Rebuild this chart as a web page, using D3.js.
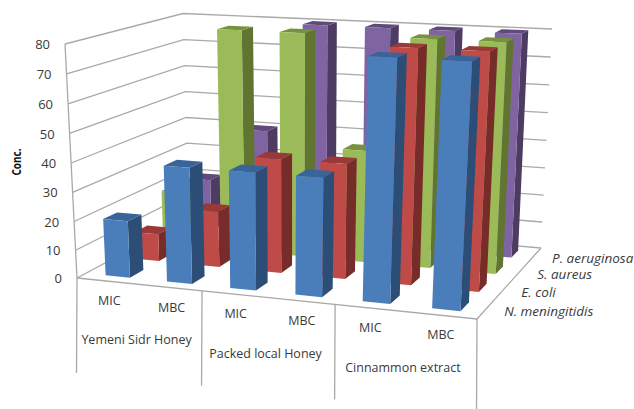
<!DOCTYPE html>
<html>
<head>
<meta charset="utf-8">
<script src="https://cdn.jsdelivr.net/npm/d3@7"></script>
<style>
html,body{margin:0;padding:0;background:#fff}
text{font-family:"Open Sans",sans-serif;fill:#3a3a3a}
</style>
</head>
<body>
<svg id="chart" width="634" height="409"></svg>
<script>
// Chart data
const groups = ["Yemeni Sidr Honey", "Packed local Honey", "Cinnammon extract"];
const measures = ["MIC", "MBC", "MIC", "MBC", "MIC", "MBC"];
const organisms = ["N. meningitidis", "E. coli", "S. aureus", "P. aeruginosa"];
const meningitidis = [20, 40, 40, 40, 80, 80];
const ecoli = [10, 20, 40, 40, 80, 80];
const aureus = [20, 80, 80, 40, 80, 80];
const aeruginosa = [20, 40, 80, 80, 80, 80];
const seriesValues = [meningitidis, ecoli, aureus, aeruginosa];
const yTicks = [0, 10, 20, 30, 40, 50, 60, 70, 80];

// Face colours per series: front, side, top
const frontColors = ["#4a7ebb", "#be4b48", "#9bbb59", "#8064a2"];
const sideColors = ["#2c4d75", "#772c2a", "#5f7530", "#4d3b62"];
const topColors = ["#38649a", "#993a38", "#76923c", "#5f4a7a"];

// Box corners on screen: floor plane and plane of the maximum value
const floorQuad = [[77, 278], [477, 319], [541, 248], [189, 218]];
const topQuad = [[65, 44], [490, 65.5], [552, 29], [183, 13.5]];

// Maps the unit square onto a quadrilateral (projective)
function quadMap(q) {
  const [[x0, y0], [x1, y1], [x2, y2], [x3, y3]] = q;
  const dx1 = x1 - x2, dx2 = x3 - x2, dy1 = y1 - y2, dy2 = y3 - y2;
  const sx = x0 - x1 + x2 - x3, sy = y0 - y1 + y2 - y3;
  const det = dx1 * dy2 - dx2 * dy1;
  const g = (sx * dy2 - dx2 * sy) / det;
  const h = (dx1 * sy - sx * dy1) / det;
  const a = x1 - x0 + g * x1, b = x3 - x0 + h * x3;
  const d = y1 - y0 + g * y1, e = y3 - y0 + h * y3;
  return (u, v) => {
    const w = g * u + h * v + 1;
    return [(a * u + b * v + x0) / w, (d * u + e * v + y0) / w];
  };
}
const floorMap = quadMap(floorQuad), topMap = quadMap(topQuad);

const xBand = d3.scaleBand().domain(d3.range(measures.length)).range([0.005, 1]).paddingInner(0.6).paddingOuter(0.3);
const zBand = d3.scaleBand().domain(d3.range(organisms.length)).range([0, 1]).paddingInner(0.55).paddingOuter(0.275);
// Slight foreshortening: equal value steps grow a little towards the top
const yScale = d3.scalePow().exponent(1.025).domain([0, 80]).range([0, 1]);

// Position of (u along categories, value, v into depth) on screen
function project(u, value, v) {
  const a = floorMap(u, v), b = topMap(u, v), t = yScale(value);
  return [a[0] + (b[0] - a[0]) * t, a[1] + (b[1] - a[1]) * t];
}

const svg = d3.select("#chart");
const gridColor = "#a9a9a9";
const frame = svg.append("g").attr("fill", "none").attr("stroke", gridColor).attr("stroke-width", 1.3);
const line = pts => frame.append("path").attr("d", d3.line()(pts));

// Walls: gridlines on the left and back planes
yTicks.forEach(t => {
  line([project(0, t, 0), project(0, t, 1), project(1, t, 1)]);
});
line([project(0, 0, 0), project(0, 80, 0)]);

// Floor outline
line([project(0, 0, 0), project(1, 0, 0), project(1, 0, 1)]);

// Dividers hanging below the floor, between groups
const dropLength = 95;
[0, 2, 4, 6].forEach(i => {
  const p = project(i / measures.length, 0, 0);
  line([p, [p[0] - 0.5, p[1] + dropLength]]);
});

// Bars, painted from the back row to the front row
const bars = svg.append("g").attr("stroke", "none");
d3.range(organisms.length).reverse().forEach(s => {
  d3.range(measures.length).forEach(c => {
    const x0 = xBand(c), x1 = x0 + xBand.bandwidth();
    const z0 = zBand(s), z1 = z0 + zBand.bandwidth();
    const val = seriesValues[s][c];
    const poly = (pts, fill) => bars.append("polygon")
      .attr("points", pts.map(p => p.join(",")).join(" ")).attr("fill", fill);
    poly([project(x1, 0, z0), project(x1, 0, z1), project(x1, val, z1), project(x1, val, z0)], sideColors[s]);
    poly([project(x0, val, z0), project(x1, val, z0), project(x1, val, z1), project(x0, val, z1)], topColors[s]);
    poly([project(x0, 0, z0), project(x1, 0, z0), project(x1, val, z0), project(x0, val, z0)], frontColors[s]);
  });
});

// Value axis labels
yTicks.forEach(t => {
  const p = project(0, t, 0);
  svg.append("text").attr("x", p[0] - 15).attr("y", p[1] + 0.5).attr("dy", "0.35em")
    .attr("text-anchor", "end").attr("font-size", 13).text(t);
});

// Axis title
svg.append("text").attr("transform", "translate(21,162) rotate(-90)")
  .attr("text-anchor", "middle").attr("font-size", 11.5).attr("font-weight", 700)
  .attr("textLength", 27).attr("lengthAdjust", "spacingAndGlyphs").style("fill", "#111").text("Conc.");

// Category labels below the floor
measures.forEach((m, i) => {
  const p = project(xBand(i) + xBand.bandwidth() / 2, 0, 0);
  svg.append("text").attr("x", p[0]).attr("y", p[1] + 24).attr("text-anchor", "middle")
    .attr("font-size", 12.5).text(m);
});
groups.forEach((g, i) => {
  const p = project((2 * i + 1) / measures.length, 0, 0);
  svg.append("text").attr("x", p[0] - 2).attr("y", p[1] + 60).attr("text-anchor", "middle")
    .attr("font-size", 12.5).text(g);
});

// Depth axis labels along the right floor edge
organisms.forEach((o, i) => {
  const p = project(1, 0, zBand(i) + zBand.bandwidth() / 2);
  svg.append("text").attr("x", p[0] + 18).attr("y", p[1] + 7).attr("font-size", 13.5)
    .attr("font-style", "italic").text(o);
});
</script>
</body>
</html>
